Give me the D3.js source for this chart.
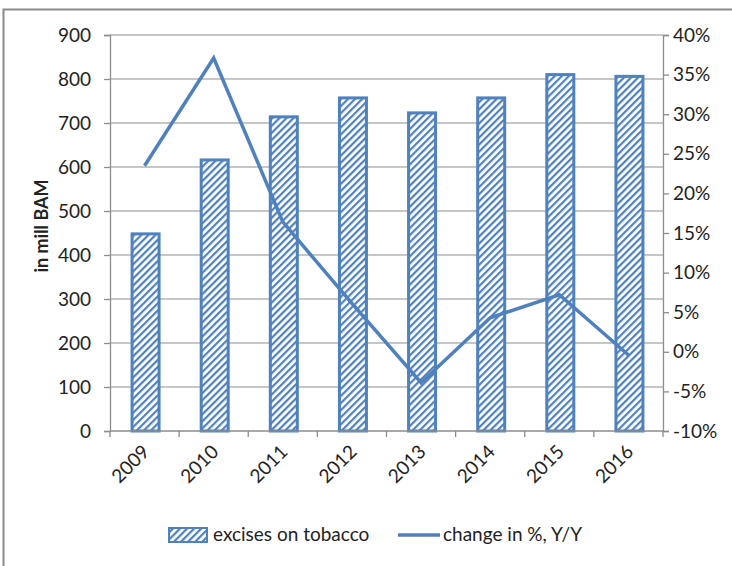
<!DOCTYPE html>
<html>
<head>
<meta charset="utf-8">
<script src="https://cdn.jsdelivr.net/npm/d3@7"></script>
<style>
body { margin: 0; background: #fff; }
text { font-family: Lato, "Open Sans", sans-serif; fill: #222; }
</style>
</head>
<body>
<svg id="chart"></svg>
<script>
var years = ["2009", "2010", "2011", "2012", "2013", "2014", "2015", "2016"];
var excises = [448, 616, 714, 757, 723, 757, 810, 806];
var change = [23.5, 37.1, 16.4, 6.1, -3.9, 4.3, 7.2, -0.4];
var leftTicks = [0, 100, 200, 300, 400, 500, 600, 700, 800, 900];
var rightTicks = [-10, -5, 0, 5, 10, 15, 20, 25, 30, 35, 40];

var width = 732, height = 566;
var plotLeft = 110, plotRight = 663, plotTop = 35, plotBottom = 431;
var blue = "#4f81bd";
var fontSize = 19;

var svg = d3.select("#chart")
.attr("width", width)
.attr("height", height);

svg.append("rect")
.attr("x", 3.5)
.attr("y", 9.5)
.attr("width", width + 10)
.attr("height", height + 10)
.attr("fill", "#fff")
.attr("stroke", "#8a8a8a")
.attr("stroke-width", 2);

// hatch pattern
var defs = svg.append("defs");
var pat = defs.append("pattern")
.attr("id", "hatch")
.attr("patternUnits", "userSpaceOnUse")
.attr("width", 5)
.attr("height", 5)
.attr("patternTransform", "rotate(45)");
pat.append("rect")
.attr("width", 5)
.attr("height", 5)
.attr("fill", "#fff");
pat.append("rect")
.attr("width", 2.2)
.attr("height", 5)
.attr("fill", blue);

var x = d3.scaleBand()
.domain(years)
.range([plotLeft, plotRight]);

var yLeft = d3.scaleLinear()
.domain([0, 900])
.range([plotBottom, plotTop]);

var yRight = d3.scaleLinear()
.domain([-10, 40])
.range([plotBottom, plotTop]);

// gridlines
svg.append("g")
.selectAll("line")
.data(leftTicks.slice(1))
.join("line")
.attr("x1", plotLeft)
.attr("x2", plotRight)
.attr("y1", function(d) { return yLeft(d); })
.attr("y2", function(d) { return yLeft(d); })
.attr("stroke", "#b3b3b3")
.attr("stroke-width", 1.3);

// bars
var barWidth = 27;
svg.append("g")
.selectAll("rect")
.data(years)
.join("rect")
.attr("x", function(d) { return x(d) + x.bandwidth()/2 - barWidth/2 + 1; })
.attr("y", function(d, i) { return yLeft(excises[i]); })
.attr("width", barWidth)
.attr("height", function(d, i) { return plotBottom - yLeft(excises[i]); })
.attr("fill", "url(#hatch)")
.attr("stroke", blue)
.attr("stroke-width", 3);

// axes
var axisColor = "#8c8c8c";
var gLeft = svg.append("g")
.attr("transform", "translate(" + plotLeft + ",0)")
.call(d3.axisLeft(yLeft).tickValues(leftTicks).tickSize(6).tickPadding(13));
var gRight = svg.append("g")
.attr("transform", "translate(" + plotRight + ",0)")
.call(d3.axisRight(yRight).tickValues(rightTicks).tickSize(6).tickPadding(4)
	.tickFormat(function(d) { return d + "%"; }));
var gBottom = svg.append("g")
.attr("transform", "translate(0," + plotBottom + ")")
.call(d3.axisBottom(x).tickSize(0).tickPadding(0).tickFormat(""));

[gLeft, gRight, gBottom].forEach(function(g) {
	g.select(".domain").attr("stroke", axisColor).attr("stroke-width", 1.3);
	g.selectAll(".tick line").attr("stroke", axisColor).attr("stroke-width", 1.3);
	g.selectAll(".tick text").attr("font-size", fontSize).attr("fill", "#222")
	.attr("font-family", "Lato, 'Open Sans', sans-serif");
});
gBottom.select(".domain").attr("d", "M" + plotLeft + ",0H" + plotRight);

// category boundary ticks
svg.append("g")
.selectAll("line")
.data(years.concat(["end"]))
.join("line")
.attr("x1", function(d, i) { return plotLeft + i * x.bandwidth(); })
.attr("x2", function(d, i) { return plotLeft + i * x.bandwidth(); })
.attr("y1", plotBottom)
.attr("y2", plotBottom + 6)
.attr("stroke", axisColor)
.attr("stroke-width", 1.3);

// rotated year labels
svg.append("g")
.selectAll("text")
.data(years)
.join("text")
.attr("text-anchor", "end")
.attr("font-size", fontSize)
.attr("transform", function(d) {
	return "translate(" + (x(d) + x.bandwidth()/2 + 6) + "," + (plotBottom + 22) + ") rotate(-45)";
})
.text(function(d) { return d; });

// line series
var line = d3.line()
.x(function(d, i) { return x(years[i]) + x.bandwidth()/2; })
.y(function(d) { return yRight(d); });
svg.append("path")
.datum(change)
.attr("d", line)
.attr("fill", "none")
.attr("stroke", blue)
.attr("stroke-width", 3.5)
.attr("stroke-linejoin", "miter");

// y axis title
svg.append("text")
.attr("transform", "translate(48,226) rotate(-90)")
.attr("text-anchor", "middle")
.attr("font-size", 18)
.attr("font-weight", "bold")
.attr("fill", "#111")
.text("in mill BAM");

// legend
var gLegend = svg.append("g");
gLegend.append("rect")
.attr("x", 169)
.attr("y", 528)
.attr("width", 38)
.attr("height", 14)
.attr("fill", "url(#hatch)")
.attr("stroke", blue)
.attr("stroke-width", 2);
gLegend.append("text")
.attr("x", 213)
.attr("y", 541)
.attr("font-size", fontSize)
.text("excises on tobacco");
gLegend.append("line")
.attr("x1", 398)
.attr("x2", 440)
.attr("y1", 535)
.attr("y2", 535)
.attr("stroke", blue)
.attr("stroke-width", 3.5);
gLegend.append("text")
.attr("x", 443)
.attr("y", 541)
.attr("font-size", fontSize)
.text("change in %, Y/Y");
</script>
</body>
</html>
